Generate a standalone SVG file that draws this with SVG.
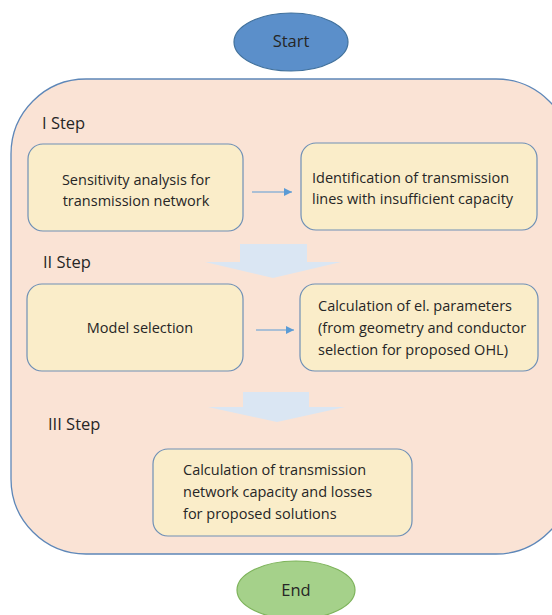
<svg xmlns="http://www.w3.org/2000/svg" width="552" height="615" viewBox="0 0 552 615">
<style>
.t{font-family:"Open Sans","Liberation Sans",Arial,sans-serif;font-size:14.5px;fill:#262626}
.s{font-family:"Open Sans","Liberation Sans",Arial,sans-serif;font-size:16.5px;fill:#262626}
.e{font-family:"Open Sans","Liberation Sans",Arial,sans-serif;font-size:16.5px;fill:#262626}
.box{fill:#faedc9;stroke:#6f90b6;stroke-width:1.2}
.blk{fill:#dae6f3;stroke:none}
.con{stroke:#5b9bd5;stroke-width:1.2;fill:none}
</style>
<defs>
<marker id="ah" viewBox="0 0 10 10" refX="10" refY="5" markerWidth="8" markerHeight="8" markerUnits="userSpaceOnUse" orient="auto">
<path d="M0,0 L10,5 L0,10 z" fill="#5b9bd5"/>
</marker>
</defs>
<g id="container">
<rect x="11" y="79" width="560" height="475" rx="75" ry="75" fill="#fae3d5" stroke="#5e87b8" stroke-width="1.3"/>
<text class="s" x="42" y="129">I Step</text>
<text class="s" x="43" y="268">II Step</text>
<text class="s" x="48" y="430">III Step</text>
</g>
<g id="start">
<ellipse cx="291" cy="42" rx="57" ry="29" fill="#5b8fca" stroke="#41719c" stroke-width="1.2"/>
<text class="e" x="291" y="47" text-anchor="middle">Start</text>
</g>
<g id="end">
<ellipse cx="296" cy="590" rx="59" ry="29" fill="#a5d18a" stroke="#7db35a" stroke-width="1.2"/>
<text class="e" x="296" y="596" text-anchor="middle">End</text>
</g>
<g id="n1">
<rect class="box" x="28" y="144" width="215" height="87" rx="15"/>
<text class="t" x="136" y="185" text-anchor="middle">Sensitivity analysis for</text>
<text class="t" x="136" y="206" text-anchor="middle">transmission network</text>
</g>
<g id="n2">
<rect class="box" x="301" y="143" width="236" height="87" rx="15"/>
<text class="t" x="312" y="183">Identification of transmission</text>
<text class="t" x="312" y="204">lines with insufficient capacity</text>
</g>
<g id="n3">
<rect class="box" x="27" y="284" width="216" height="87" rx="15"/>
<text class="t" x="140" y="333" text-anchor="middle">Model selection</text>
</g>
<g id="n4">
<rect class="box" x="300" y="284" width="238" height="87" rx="15"/>
<text class="t" x="318" y="311">Calculation of el. parameters</text>
<text class="t" x="318" y="333">(from geometry and conductor</text>
<text class="t" x="318" y="355">selection for proposed OHL)</text>
</g>
<g id="n5">
<rect class="box" x="153" y="449" width="259" height="87" rx="15"/>
<text class="t" x="183" y="475">Calculation of transmission</text>
<text class="t" x="183" y="497">network capacity and losses</text>
<text class="t" x="183" y="519">for proposed solutions</text>
</g>
<g id="connectors">
<line class="con" x1="252" y1="192" x2="292" y2="192" marker-end="url(#ah)"/>
<line class="con" x1="256" y1="330" x2="294" y2="330" marker-end="url(#ah)"/>
<polygon class="blk" points="240,244 307,244 307,262 341,262 273,278 205,262 240,262"/>
<polygon class="blk" points="243,392 309,392 309,407 345,407 277,422 208,407 243,407"/>
</g>
</svg>
